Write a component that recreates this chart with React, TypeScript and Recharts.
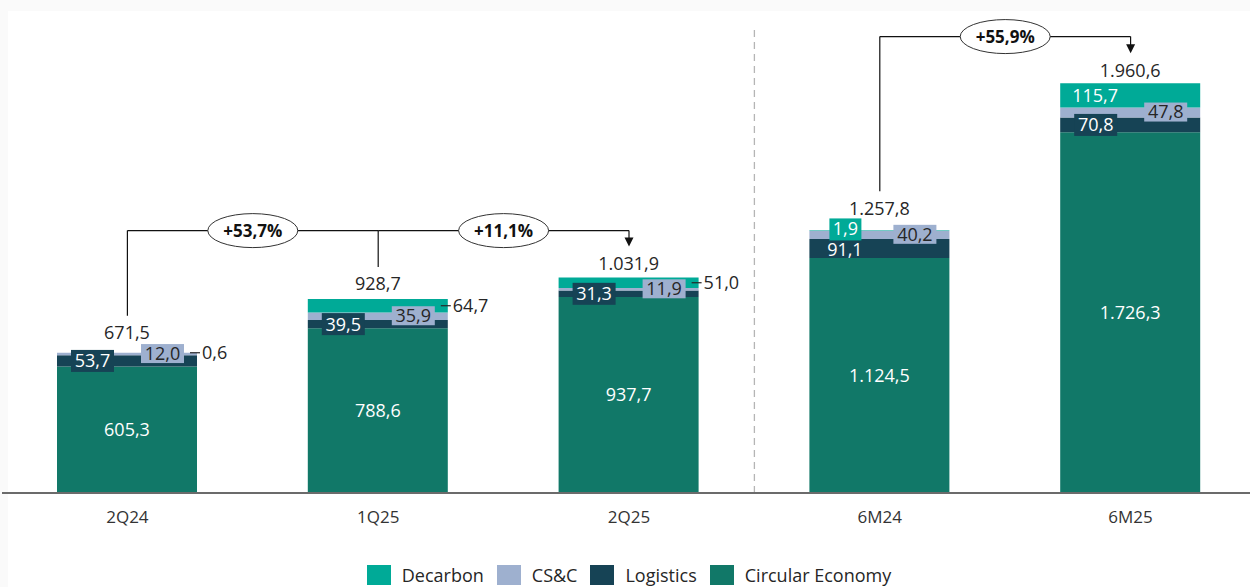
import React from 'react';
import { BarChart, Bar, XAxis, YAxis, LabelList, ReferenceLine, Legend } from 'recharts';

// ---------- data ----------
const categories = ['2Q24', '1Q25', '2Q25', '6M24', '6M25'];
const circularEconomy = [605.3, 788.6, 937.7, 1124.5, 1726.3];
const logistics = [53.7, 39.5, 31.3, 91.1, 70.8];
const cscValues = [12.0, 35.9, 11.9, 40.2, 47.8];
const decarbon = [0.6, 64.7, 51.0, 1.9, 115.7];
const totals = [671.5, 928.7, 1031.9, 1257.8, 1960.6];
const periodGroups = [['2Q24', '1Q25', '2Q25'], ['6M24', '6M25']];
const growthFrom = ['2Q24', '1Q25', '6M24'];
const growthTo = ['1Q25', '2Q25', '6M25'];
const growthLabels = ['+53,7%', '+11,1%', '+55,9%'];
const legendNames = ['Decarbon', 'CS&C', 'Logistics', 'Circular Economy'];

// ---------- styling ----------
const FONT = '"Open Sans", "Liberation Sans", sans-serif';
const C_DEC = '#00AA97';
const C_CSC = '#9EB0CF';
const C_LOG = '#164355';
const C_CE = '#117868';
const TXT = '#262626';
const legendColors = [C_DEC, C_CSC, C_LOG, C_CE];
const decarbonPlacement = ['outside', 'outside', 'outside', 'box', 'inside'];
const totalLift = [20, 15, 14, 22, 13];

const CHART_W = 1258;
const CHART_H = 587;
const M_TOP = 25;
const X_AXIS_H = 64;
const LEGEND_H = 30;
const Y_MAX = 2240;
const PLOT_H = CHART_H - M_TOP - X_AXIS_H - LEGEND_H;
const PX = PLOT_H / Y_MAX;
const BRACKET_GAP = 224;
const DROP_GAP = 17;
const FS = 18;
const BASE = 0.357 * FS;

const data = categories.map((name, i) => ({
  name,
  ce: circularEconomy[i],
  log: logistics[i],
  csc: cscValues[i],
  dec: decarbon[i],
}));

const fmt = (v: number) => {
  const [int, dec] = Number(v).toFixed(1).split('.');
  return int.replace(/\B(?=(\d{3})+(?!\d))/g, '.') + ',' + dec;
};

const geo = (p: any) => {
  const v = p.viewBox && p.viewBox.width !== undefined ? p.viewBox : p;
  const y = Number(v.y);
  const h = Number(v.height);
  return { x: Number(v.x), w: Number(v.width), top: h < 0 ? y + h : y, h: Math.abs(h) };
};
const idxOf = (p: any) => (typeof p.index === 'number' ? p.index : categories.indexOf(p.payload?.name));

const CELabel = (p: any) => {
  const b = geo(p);
  return (
    <text x={b.x + b.w / 2} y={b.top + b.h / 2 + BASE} textAnchor="middle" fill="#fff" fontSize={FS} fontFamily={FONT}>
      {fmt(p.value)}
    </text>
  );
};

const LogLabel = (p: any) => {
  const b = geo(p);
  const needBox = b.h < 19;
  const cy = b.top + b.h / 2 + (needBox ? 0 : 1);
  const bx = b.x + 14;
  return (
    <g>
      {needBox && <rect x={bx} y={cy - 11} width={43} height={22} fill={C_LOG} />}
      <text x={bx + 21.5} y={cy + BASE} textAnchor="middle" fill="#fff" fontSize={FS} fontFamily={FONT}>
        {fmt(p.value)}
      </text>
    </g>
  );
};

const CscLabel = (p: any) => {
  const b = geo(p);
  const cy = b.top + b.h / 2 - 0.5;
  const bx = b.x + b.w - 13 - 43;
  return (
    <g>
      <rect x={bx} y={cy - 9.5} width={43} height={19} fill={C_CSC} />
      <text x={bx + 21.5} y={cy + BASE} textAnchor="middle" fill={TXT} fontSize={FS} fontFamily={FONT}>
        {fmt(p.value)}
      </text>
    </g>
  );
};

const DecLabel = (p: any) => {
  const b = geo(p);
  const i = idxOf(p);
  const cy = b.top + b.h / 2;
  const right = b.x + b.w;
  const mode = decarbonPlacement[i];
  let lbl: any = null;
  if (mode === 'outside') {
    lbl = (
      <g>
        <line x1={right - 7} x2={right + 3} y1={cy} y2={cy} stroke={TXT} strokeWidth={1.2} />
        <text x={right + 5} y={cy + BASE} textAnchor="start" fill={TXT} fontSize={FS} fontFamily={FONT}>
          {fmt(p.value)}
        </text>
      </g>
    );
  } else if (mode === 'box') {
    const by = cy - 1;
    lbl = (
      <g>
        <rect x={b.x + 20} y={by - 11} width={32} height={22} fill={C_DEC} />
        <text x={b.x + 36} y={by - 1 + BASE} textAnchor="middle" fill="#fff" fontSize={FS} fontFamily={FONT}>
          {fmt(p.value)}
        </text>
      </g>
    );
  } else {
    lbl = (
      <text x={b.x + 12} y={cy + BASE} textAnchor="start" fill="#fff" fontSize={FS} fontFamily={FONT}>
        {fmt(p.value)}
      </text>
    );
  }
  return (
    <g>
      {lbl}
      <text x={b.x + b.w / 2} y={b.top - totalLift[i] + BASE} textAnchor="middle" fill={TXT} fontSize={FS} fontFamily={FONT}>
        {fmt(totals[i])}
      </text>
    </g>
  );
};

const XTick = (p: any) => (
  <text x={p.x} y={p.y + 22} textAnchor="middle" fill="#333" fontSize={17} fontFamily={FONT}>
    {p.payload.value}
  </text>
);

const renderLegend = () => (
  <div
    style={{
      display: 'flex',
      justifyContent: 'center',
      alignItems: 'center',
      height: LEGEND_H,
      boxSizing: 'border-box',
      paddingTop: 6,
      fontFamily: FONT,
      fontSize: 18,
      color: TXT,
    }}
  >
    {legendNames.map((n, i) => (
      <div key={n} style={{ display: 'flex', alignItems: 'center', marginRight: i < legendNames.length - 1 ? 13 : 0 }}>
        <span style={{ display: 'inline-block', width: 24, height: 20, background: legendColors[i], marginRight: 11 }} />
        <span>{n}</span>
      </div>
    ))}
  </div>
);

const groupLevel = (cat: string) => {
  const g = periodGroups.find((gr) => gr.includes(cat)) || [];
  return Math.max(...g.map((c) => totals[categories.indexOf(c)])) + BRACKET_GAP;
};

const dropShape = (arrow: boolean) => (p: any) => {
  const { x1, y1, x2, y2 } = p;
  const top = Math.min(y1, y2);
  const bottom = Math.max(y1, y2);
  return (
    <g>
      <line x1={x1} x2={x2} y1={top} y2={arrow ? bottom - 7 : bottom} stroke="#111" strokeWidth={1.2} />
      {arrow && <polygon points={`${x1},${bottom} ${x1 - 4.5},${bottom - 9} ${x1 + 4.5},${bottom - 9}`} fill="#111" />}
    </g>
  );
};

const linkShape = (label: string) => (p: any) => {
  const { x1, y1, x2, y2 } = p;
  const mx = (x1 + x2) / 2;
  return (
    <g>
      <line x1={x1} x2={x2} y1={y1} y2={y2} stroke="#111" strokeWidth={1.2} />
      <ellipse cx={mx} cy={y1} rx={45} ry={17} fill="#fff" stroke="#333" strokeWidth={1} />
      <text x={mx} y={y1 + 0.357 * 17} textAnchor="middle" fontSize={17} fontWeight={700} fill="#111" fontFamily={FONT}>
        {label}
      </text>
    </g>
  );
};

const separatorShape = (p: any) => {
  const { x1, y1, x2, y2 } = p;
  const mx = (x1 + x2) / 2;
  return <line x1={mx} x2={mx} y1={y1} y2={y2} stroke="#b5b5b5" strokeWidth={1.3} strokeDasharray="7 5" />;
};

export default function App() {
  return (
    <div style={{ position: 'absolute', left: 0, top: 0, width: 1250, height: 587, overflow: 'hidden', background: '#fafafa', fontFamily: FONT }}>
      <div style={{ position: 'absolute', left: 8, top: 11, right: 0, bottom: 0, background: '#fff' }} />
      <div style={{ position: 'absolute', left: 0, top: 0 }}>
        <BarChart width={CHART_W} height={CHART_H} data={data} margin={{ top: M_TOP, right: 2, left: 2, bottom: 0 }}>
          <XAxis
            dataKey="name"
            height={X_AXIS_H}
            tickLine={false}
            axisLine={{ stroke: '#6b6b6b', strokeWidth: 2 }}
            tick={<XTick />}
            interval={0}
          />
          <YAxis hide domain={[0, Y_MAX]} />
          <Legend verticalAlign="bottom" align="center" content={renderLegend} />
          <Bar dataKey="ce" stackId="s" fill={C_CE} barSize={140} isAnimationActive={false}>
            <LabelList dataKey="ce" content={<CELabel />} />
          </Bar>
          <Bar dataKey="log" stackId="s" fill={C_LOG} barSize={140} isAnimationActive={false}>
            <LabelList dataKey="log" content={<LogLabel />} />
          </Bar>
          <Bar dataKey="csc" stackId="s" fill={C_CSC} barSize={140} isAnimationActive={false}>
            <LabelList dataKey="csc" content={<CscLabel />} />
          </Bar>
          <Bar dataKey="dec" stackId="s" fill={C_DEC} barSize={140} isAnimationActive={false}>
            <LabelList dataKey="dec" content={<DecLabel />} />
          </Bar>
          <ReferenceLine
            segment={[{ x: '2Q25', y: 0 }, { x: '6M24', y: Y_MAX }]}
            shape={separatorShape}
            ifOverflow="visible"
          />
          {periodGroups.map((g) =>
            g.map((cat, k) => {
              const i = categories.indexOf(cat);
              const level = groupLevel(cat);
              const end = totals[i] + (totalLift[i] + DROP_GAP) / PX;
              return (
                <ReferenceLine
                  key={'d' + cat}
                  segment={[{ x: cat, y: level }, { x: cat, y: end }]}
                  shape={dropShape(k === g.length - 1)}
                  ifOverflow="visible"
                />
              );
            })
          )}
          {growthLabels.map((lab, j) => {
            const level = groupLevel(growthFrom[j]);
            return (
              <ReferenceLine
                key={'g' + j}
                segment={[{ x: growthFrom[j], y: level }, { x: growthTo[j], y: level }]}
                shape={linkShape(lab)}
                ifOverflow="visible"
              />
            );
          })}
        </BarChart>
      </div>
    </div>
  );
}
